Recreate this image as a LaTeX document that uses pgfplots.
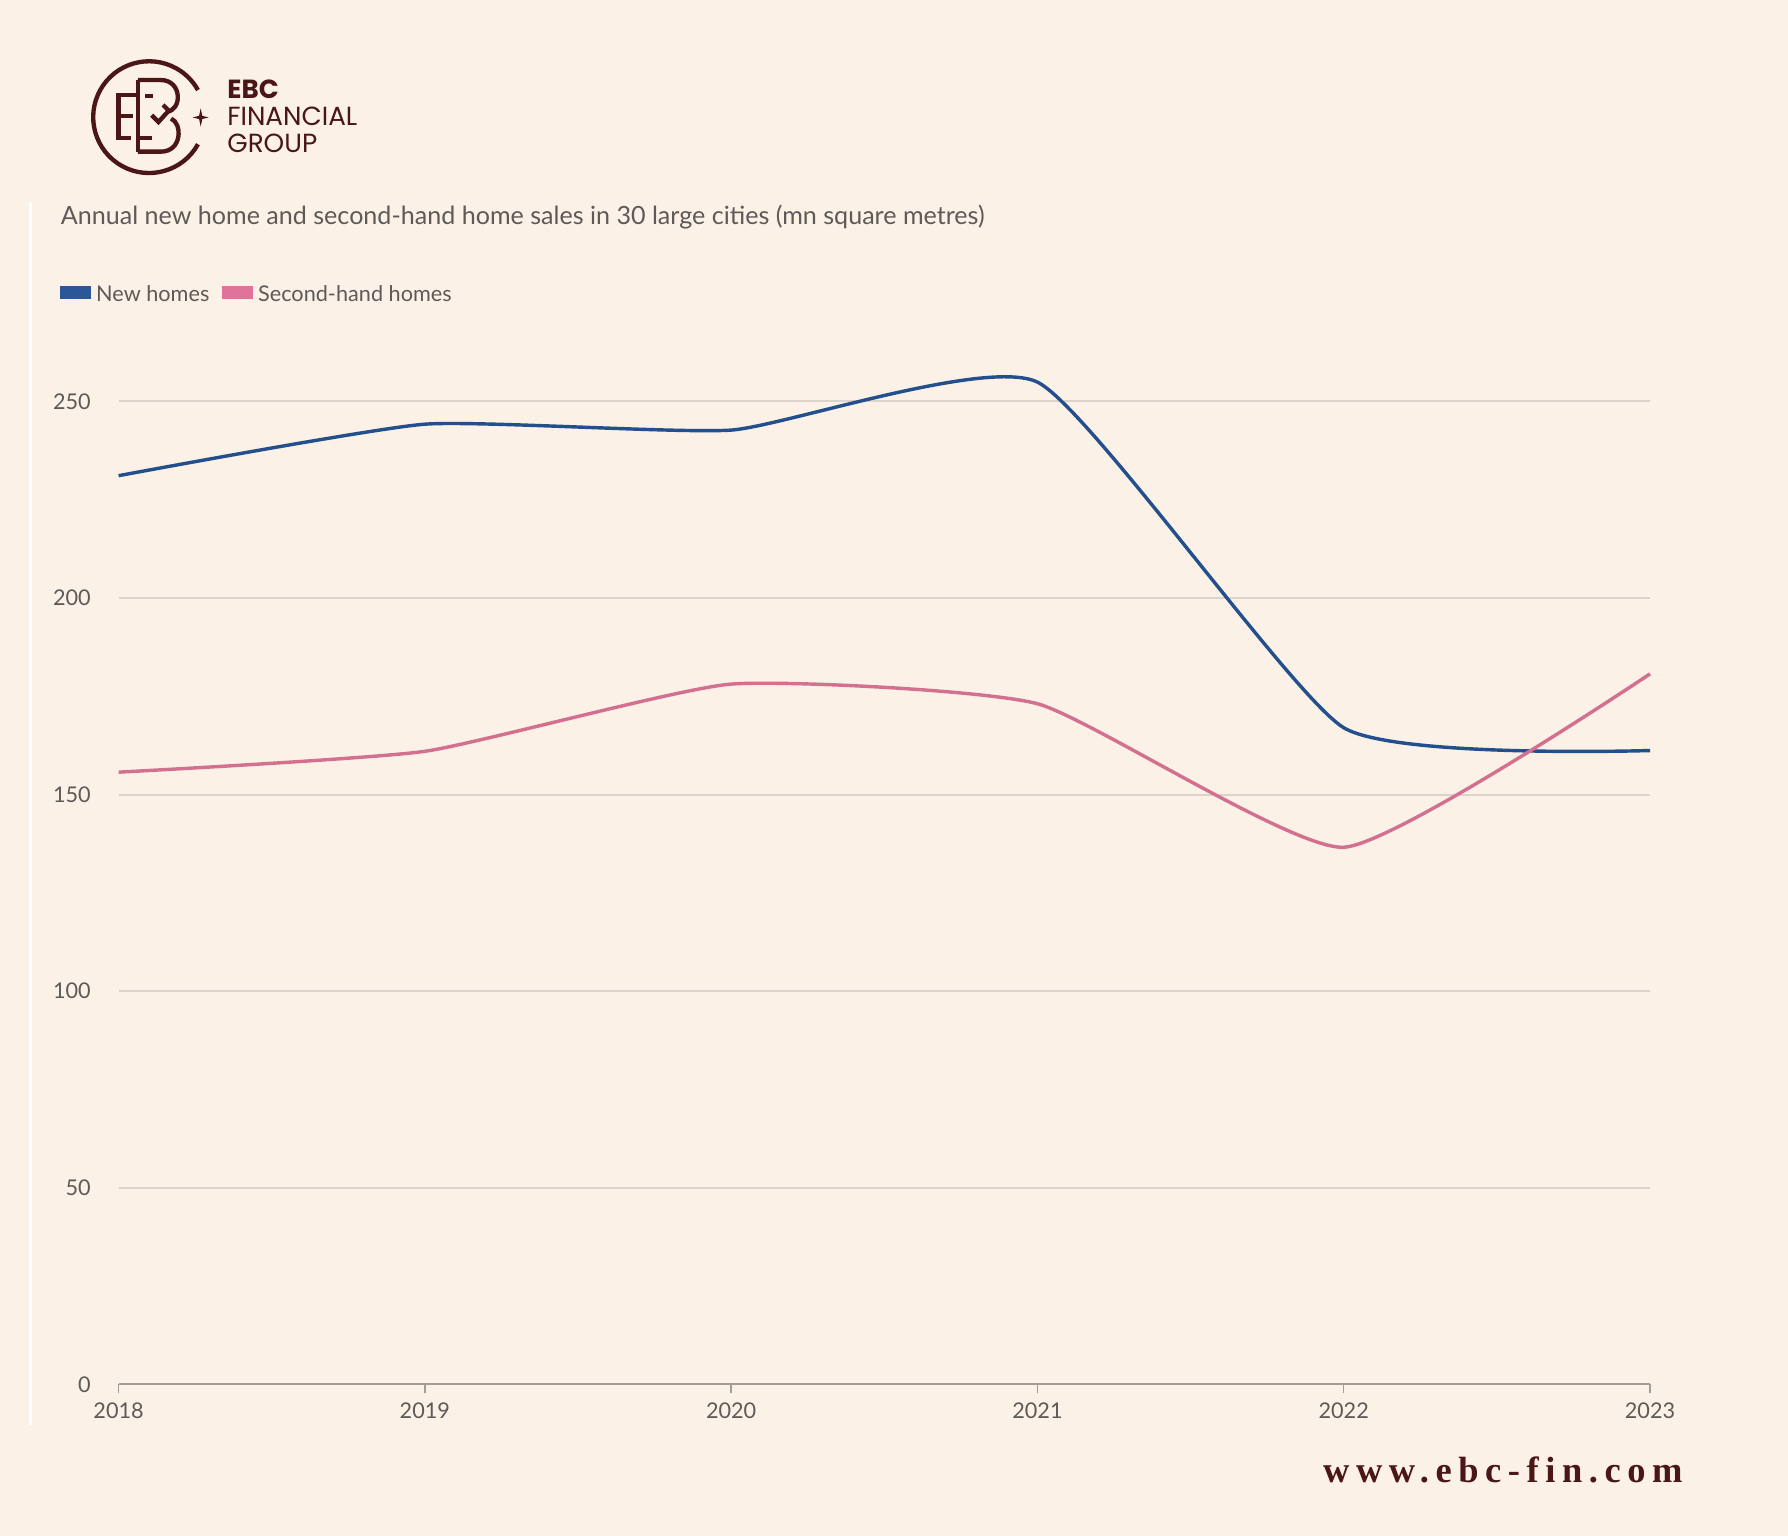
\documentclass[border=0pt]{standalone}
\usepackage{fontspec}
\setmainfont{Lato}
\newfontfamily\logofont{Poppins}
\newfontfamily\webfont[LetterSpace=18]{Liberation Serif}
\usepackage{pgfplots}
\pgfplotsset{compat=1.18}
\definecolor{bgc}{HTML}{FBF1E7}
\definecolor{logoc}{HTML}{4A1616}
\definecolor{newc}{HTML}{234F8C}
\definecolor{secc}{HTML}{D4708F}
\definecolor{newleg}{HTML}{2B5797}
\definecolor{secleg}{HTML}{E0739A}
\definecolor{gridc}{HTML}{DCD3CB}
\definecolor{axc}{HTML}{A39D98}
\definecolor{txtc}{HTML}{5E5A57}
\begin{document}
\begin{tikzpicture}
\fill[bgc] (0,0) rectangle (784pt,-673.5pt);
\useasboundingbox (0,0) rectangle (784pt,-673.5pt);
\begin{scope}[x=0.5pt,y=-0.5pt]
% panel edge
\draw[white, line width=1.2pt] (27,178) -- (27,1250);
% logo
\begin{scope}[logoc, line width=1.9pt, line cap=butt, line join=miter]
\draw (173.6,126.5) arc[start angle=29, end angle=331, radius=49];
\draw (121,83.3) -- (104,83.3) -- (104,121.3) -- (115,121.3);
\draw (104,102) -- (117,102);
\draw (127.5,84) -- (134,84);
\draw (121,121.3) -- (133,121.3);
\draw (121,70.2) -- (121,133);
\draw (121,70.2) -- (141,70.2) .. controls (160,70.2) and (160,97) .. (146,98);
\draw (121,133) -- (141,133) .. controls (160,133) and (160,108) .. (150,104);
\draw (133,101) -- (139,107) -- (148,97) -- (143,92);
\fill (176,95) -- (177.4,101.6) -- (183,103) -- (177.4,104.4) -- (176,111) -- (174.6,104.4) -- (169,103) -- (174.6,101.6) -- cycle;
\end{scope}
\node[anchor=base west, inner sep=0pt, text=logoc, font=\logofont\bfseries\fontsize{11.5}{13}\selectfont] at (199,86) {EBC};
\node[anchor=base west, inner sep=0pt, text=logoc, font=\logofont\fontsize{11.5}{13}\selectfont] at (199,110) {FINANCIAL};
\node[anchor=base west, inner sep=0pt, text=logoc, font=\logofont\fontsize{11.5}{13}\selectfont] at (199,134) {GROUP};
% subtitle
\node[anchor=base west, inner sep=0pt, text=txtc, font=\fontsize{11}{13}\selectfont] at (53,197) {Annual new home and second-hand home sales in 30 large cities (mn square metres)};
% legend
\fill[newleg] (53,251) rectangle (80,262);
\node[anchor=base west, inner sep=0pt, text=txtc, font=\fontsize{9.5}{12}\selectfont] at (84,264) {New homes};
\fill[secleg] (195,251) rectangle (222,262);
\node[anchor=base west, inner sep=0pt, text=txtc, font=\fontsize{9.5}{12}\selectfont] at (226,264) {Second-hand homes};
% website
\node[anchor=base east, inner sep=0pt, text=logoc, font=\webfont\bfseries\fontsize{16}{19}\selectfont] at (1476,1300) {www.ebc-fin.com};
\end{scope}
\begin{axis}[
  at={(52pt,-607pt)}, anchor=south west,
  scale only axis, width=671.5pt, height=456.86pt,
  xmin=2018, xmax=2023, ymin=0, ymax=265,
  axis x line*=bottom, axis y line*=left,
  y axis line style={draw=none},
  x axis line style={draw=axc, line width=1pt},
  xtick={2018,2019,2020,2021,2022,2023},
  xticklabels={2018,2019,2020,2021,2022,2023},
  ytick={0,50,100,150,200,250},
  tick align=outside,
  major tick length=4pt,
  xtick style={draw=axc, line width=0.6pt},
  ytick style={draw=none},
  ymajorgrids, grid style={draw=gridc, line width=0.9pt},
  tick label style={text=txtc, font=\fontsize{9.5}{11}\selectfont},
  /pgf/number format/assume math mode=true,
  yticklabel style={anchor=east, inner sep=0pt, xshift=-8pt},
  xticklabel style={anchor=north, inner sep=0pt, yshift=-4pt},
  clip=false,
]
\addplot[newc, line width=1.5pt, smooth, tension=0.3] coordinates {
 (2018,231.1) (2019,244.2) (2020,242.7) (2021,254.9) (2022,167.0) (2023,161.2)};
\addplot[secc, line width=1.5pt, smooth, tension=0.3] coordinates {
 (2018,155.7) (2019,161.0) (2020,178.1) (2021,173.1) (2022,136.6) (2023,180.7)};
\end{axis}
\end{tikzpicture}
\end{document}
